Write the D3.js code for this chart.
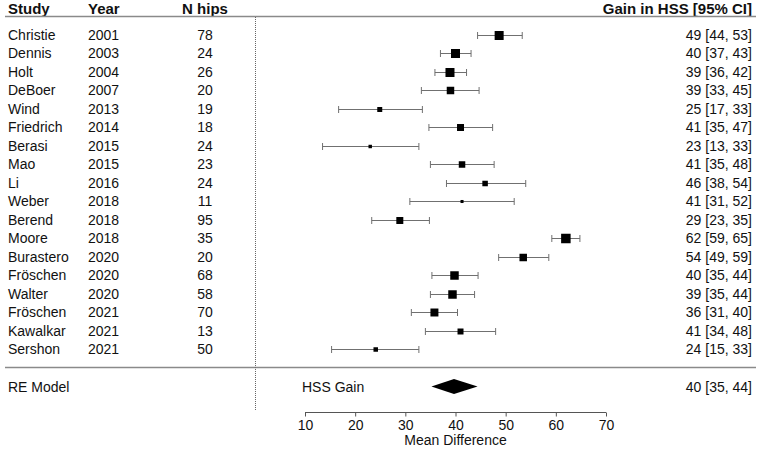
<!DOCTYPE html>
<html>
<head>
<meta charset="utf-8">
<script src="https://cdn.jsdelivr.net/npm/d3@7"></script>
<style>
  html, body { margin: 0; padding: 0; background: #fff; }
  svg { display: block; font-family: "Liberation Sans", Arial, sans-serif; }
</style>
</head>
<body>
<svg id="chart" width="762" height="450"></svg>
<script>
const studies = ["Christie","Dennis","Holt","DeBoer","Wind","Friedrich","Berasi","Mao","Li","Weber","Berend","Moore","Burastero","Fröschen","Walter","Fröschen","Kawalkar","Sershon"];
const years = [2001,2003,2004,2007,2013,2014,2015,2015,2016,2018,2018,2018,2020,2020,2020,2021,2021,2021];
const nHips = [78,24,26,20,19,18,24,23,24,11,95,35,20,68,58,70,13,50];
const estimates = [48.7,40.0,38.9,39.0,24.9,41.0,23.0,41.3,45.9,41.3,28.9,62.0,53.5,39.8,39.4,35.8,41.0,24.1];
const ciLower = [44.4,37.0,35.9,33.2,16.7,34.7,13.5,35.0,38.2,30.9,23.3,59.2,48.6,35.3,35.0,31.2,34.0,15.3];
const ciUpper = [53.3,43.1,42.2,44.7,33.4,47.4,32.7,47.7,54.0,51.7,34.8,64.8,58.6,44.5,43.8,40.4,48.0,32.7];
const weights = [8.8,8.8,8.8,6.1,2.7,5.3,1.3,4.6,3.3,1.0,5.3,9.8,6.1,7.8,7.8,6.9,3.9,2.2];
const gainLabels = ["49 [44, 53]","40 [37, 43]","39 [36, 42]","39 [33, 45]","25 [17, 33]","41 [35, 47]","23 [13, 33]","41 [35, 48]","46 [38, 54]","41 [31, 52]","29 [23, 35]","62 [59, 65]","54 [49, 59]","40 [35, 44]","39 [35, 44]","36 [31, 40]","41 [34, 48]","24 [15, 33]"];
const summary = { est: 39.7, lo: 35.2, hi: 44.4, label: "40 [35, 44]" };
const headers = ["Study", "Year", "N hips", "Gain in HSS [95% CI]"];
const xTicks = [10,20,30,40,50,60,70];
const axisTitle = "Mean Difference";
const summaryName = "RE Model";
const summaryTag = "HSS Gain";

const svg = d3.select("#chart");
const txt = "#111";
const x = d3.scaleLinear().domain([10, 70]).range([305, 606]);
const y = d3.scaleLinear().domain([0, studies.length - 1]).range([35, 35 + 18.47 * 17]);
const sz = d3.scaleSqrt().domain([0, d3.max(weights)]).range([0, 9.5]);
const colStudy = 8, colYear = 88, colN = 205, colRight = 752;
const fs = 14;

// header
const hdr = svg.append("g").attr("font-weight", "bold").attr("font-size", 15).attr("fill", txt);
hdr.append("text").attr("x", colStudy).attr("y", 13.5).text(headers[0]);
hdr.append("text").attr("x", colYear).attr("y", 13.5).text(headers[1]);
hdr.append("text").attr("x", colN).attr("y", 13.5).attr("text-anchor", "middle").text(headers[2]);
hdr.append("text").attr("x", colRight).attr("y", 13.5).attr("text-anchor", "end").text(headers[3]);
svg.append("line").attr("x1", 5).attr("x2", 756).attr("y1", 16.5).attr("y2", 16.5)
  .attr("stroke", "#8a8a8a").attr("stroke-width", 1.5);
svg.append("line").attr("x1", 5).attr("x2", 756).attr("y1", 367.5).attr("y2", 367.5)
  .attr("stroke", "#8a8a8a").attr("stroke-width", 1.5);

// dotted vertical
svg.append("line").attr("x1", 255.5).attr("x2", 255.5).attr("y1", 17).attr("y2", 411)
  .attr("stroke", "#666").attr("stroke-width", 1).attr("stroke-dasharray", "1,1");

// rows
const rows = svg.append("g").attr("font-size", fs).attr("fill", txt);
studies.forEach((s, i) => {
  const yy = y(i) + 5;
  rows.append("text").attr("x", colStudy).attr("y", yy).text(s);
  rows.append("text").attr("x", colYear).attr("y", yy).text(years[i]);
  rows.append("text").attr("x", colN).attr("y", yy).attr("text-anchor", "middle").text(nHips[i]);
  rows.append("text").attr("x", colRight).attr("y", yy).attr("text-anchor", "end").text(gainLabels[i]);
});

// CIs
const ci = svg.append("g").attr("stroke", "#707070").attr("stroke-width", 1).attr("fill", "none");
studies.forEach((s, i) => {
  const yy = Math.round(y(i)) + 0.5;
  ci.append("line").attr("x1", x(ciLower[i])).attr("x2", x(ciUpper[i])).attr("y1", yy).attr("y2", yy);
  ci.append("line").attr("x1", x(ciLower[i])).attr("x2", x(ciLower[i])).attr("y1", yy - 3.5).attr("y2", yy + 3.5);
  ci.append("line").attr("x1", x(ciUpper[i])).attr("x2", x(ciUpper[i])).attr("y1", yy - 3.5).attr("y2", yy + 3.5);
});
svg.append("g").selectAll("rect").data(estimates).join("rect")
  .attr("x", (d, i) => x(d) - sz(weights[i]) / 2)
  .attr("y", (d, i) => Math.round(y(i)) + 0.5 - sz(weights[i]) / 2)
  .attr("width", (d, i) => sz(weights[i]))
  .attr("height", (d, i) => sz(weights[i]))
  .attr("fill", "#000");

// summary
const ys = 386.5;
svg.append("text").attr("x", colStudy).attr("y", ys + 5).attr("font-size", fs).attr("fill", txt).text(summaryName);
svg.append("text").attr("x", 302).attr("y", ys + 5).attr("font-size", fs).attr("fill", txt).text(summaryTag);
svg.append("text").attr("x", colRight).attr("y", ys + 5).attr("font-size", fs).attr("fill", txt)
  .attr("text-anchor", "end").text(summary.label);
svg.append("polygon")
  .attr("points", [[x(summary.lo), ys], [x(summary.est), ys - 7.5], [x(summary.hi), ys], [x(summary.est), ys + 7.5]].map(p => p.join(",")).join(" "))
  .attr("fill", "#000");

// axis
const axis = d3.axisBottom(x).tickValues(xTicks).tickSize(4).tickPadding(4).tickFormat(d3.format("d"));
const ag = svg.append("g").attr("transform", "translate(0,412.5)").call(axis);
ag.select(".domain").attr("stroke", "#555").attr("d", `M${x(10)},0H${x(70)}`);
ag.selectAll(".tick line").attr("stroke", "#555");
ag.selectAll(".tick text").attr("font-size", fs).attr("fill", txt).attr("font-family", "Liberation Sans, Arial, sans-serif");
svg.append("text").attr("x", x(40)).attr("y", 445).attr("text-anchor", "middle").attr("font-size", fs).attr("fill", txt).text(axisTitle);
</script>
</body>
</html>
